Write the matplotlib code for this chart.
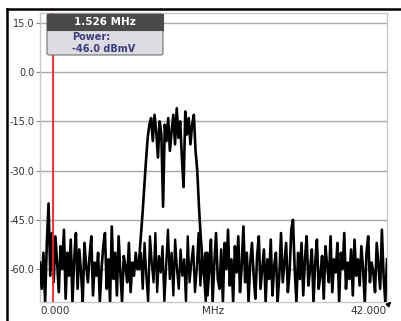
"""Spectrum trace with a marker readout, drawn like the meter screen."""

import matplotlib

matplotlib.use("Agg")

import matplotlib.pyplot as plt
import numpy as np
from matplotlib.lines import Line2D
from matplotlib.patches import FancyBboxPatch, Rectangle

# Main sweep, 0 - 42 MHz (dBmV). Split by region only for readability.
noise_low = [
    -58, -66, -55, -70, -52, -40, -62, -49, -64, -50,
    -58, -67, -53, -60, -48, -69, -55, -62, -51, -70,
    -57, -49, -66, -54, -61, -70, -52, -59, -64, -56,
    -50, -68, -58, -62, -55, -70, -60, -53, -49, -66,
    -57, -70, -47, -63, -55, -68, -50, -61, -70, -56,
    -59, -64, -52, -67, -58, -62, -55, -60,
]
channel_rise = [-57, -50, -43, -35, -27]
channel_top = [
    -20, -16, -14, -21, -13, -18, -26, -15, -19, -41,
    -16, -21, -14, -24, -18, -13, -22, -11, -20, -15,
    -26, -35, -12, -19, -14, -22, -16, -13, -24,
]
channel_fall = [-30, -41, -50, -57, -62]
noise_high = [
    -55, -68, -60, -51, -70, -58, -49, -63, -66, -54,
    -70, -52, -60, -48, -65, -57, -70, -53, -61, -50,
    -67, -59, -47, -64, -55, -70, -58, -52, -62, -69,
    -56, -50, -66, -60, -54, -70, -57, -63, -51, -68,
    -59, -55, -70, -62, -49, -64, -58, -52, -67, -61,
    -48, -45, -60, -70, -55, -63, -52, -68, -57, -50,
    -65, -60, -54, -70, -58, -51, -66, -62, -56, -69,
    -53, -59, -64, -50, -67, -57, -61, -52, -70, -55,
    -60, -49, -66, -58, -63, -54, -68, -51, -62, -57,
    -65, -53, -60, -70, -55, -50, -64, -58, -61, -67,
    -52, -59, -66, -48, -62, -70, -57,
]
level_dbmv = noise_low + channel_rise + channel_top + channel_fall + noise_high

# Second sweep where the burst was off (12 - 20.5 MHz).
floor_dbmv = [
    -60, -55, -66, -52, -62, -70, -50, -58, -64, -49,
    -67, -56, -61, -53, -70, -59, -48, -63, -55, -68,
    -51, -60, -66, -54, -62, -57, -70, -50, -64, -58,
    -53, -67, -60, -49, -65, -56, -62, -70, -55, -61,
]

span_mhz = (0.0, 42.0)
floor_span_mhz = (12.0, 20.5)
marker_mhz = 1.526
marker_power = "-46.0 dBmV"
y_ticks = [15, 0, -15, -30, -45, -60]

W, H = 401, 321


def fx(px):
    return px / W


def fy(py):
    return 1 - py / H


fig = plt.figure(figsize=(W / 100, H / 100), dpi=100)
ax = fig.add_axes([fx(40), fy(302), fx(387) - fx(40), fy(13) - fy(302)])

freq = np.linspace(span_mhz[0], span_mhz[1], len(level_dbmv))
freq_floor = np.linspace(floor_span_mhz[0], floor_span_mhz[1], len(floor_dbmv))

for tick in y_ticks:
    ax.axhline(tick, color="#a8a8a8", linewidth=1.0, zorder=1)

ax.plot(freq_floor, floor_dbmv, color="black", linewidth=1.7, zorder=2)
ax.plot(freq, level_dbmv, color="black", linewidth=1.9, zorder=3)
ax.axvline(marker_mhz, color="#ff2020", linewidth=1.3, zorder=4)

ax.set_xlim(*span_mhz)
ax.set_ylim(-70, 18)
ax.set_yticks(y_ticks)
ax.set_yticklabels([f"{t:.1f}" for t in y_ticks])
ax.tick_params(axis="y", length=3, width=0.8, color="#888888",
               labelsize=7, labelcolor="#333333", pad=1)
ax.set_xticks([span_mhz[0], sum(span_mhz) / 2, span_mhz[1]])
ax.set_xticklabels([f"{span_mhz[0]:.3f}", "MHz", f"{span_mhz[1]:.3f}"])
ax.tick_params(axis="x", length=0, labelsize=7.5, labelcolor="#333333", pad=3)
labels = ax.get_xticklabels()
labels[0].set_horizontalalignment("left")
labels[-1].set_horizontalalignment("right")
for spine in ax.spines.values():
    spine.set_color("#c8c8c8")
    spine.set_linewidth(1.0)

# Marker readout box
box_x0, box_x1 = fx(47), fx(163)
box_top, box_mid, box_bot = fy(14), fy(30), fy(55)
body = FancyBboxPatch((box_x0, box_bot), box_x1 - box_x0, box_top - box_bot,
                      boxstyle="round,pad=0,rounding_size=0.006",
                      transform=fig.transFigure, facecolor="#dcdce2",
                      edgecolor="#707070", linewidth=0.8, zorder=10)
fig.add_artist(body)
head = Rectangle((box_x0, box_mid), box_x1 - box_x0, box_top - box_mid,
                 transform=fig.transFigure, facecolor="#4a4a4a",
                 edgecolor="#4a4a4a", linewidth=0.8, zorder=11)
fig.add_artist(head)
fig.text(fx(105), fy(22), f"{marker_mhz:.3f} MHz", color="white", fontsize=7.5,
         fontweight="bold", ha="center", va="center", zorder=12)
fig.text(fx(72), fy(37.5), "Power:", color="#3b3b80", fontsize=7,
         fontweight="bold", ha="left", va="center", zorder=12)
fig.text(fx(72), fy(48.5), marker_power, color="#3b3b80", fontsize=7,
         fontweight="bold", ha="left", va="center", zorder=12)

# Screen frame (top and left edges) and the corner arrow
fig.add_artist(Line2D([fx(7), fx(W)], [fy(9), fy(9)], color="black",
                      linewidth=1.8, transform=fig.transFigure))
fig.add_artist(Line2D([fx(7), fx(7)], [fy(9), fy(H)], color="black",
                      linewidth=1.8, transform=fig.transFigure))
fig.add_artist(plt.annotate("", xy=(fx(393), fy(300)), xytext=(fx(387), fy(306)),
                            xycoords="figure fraction",
                            arrowprops=dict(arrowstyle="-|>", color="black",
                                            linewidth=1.0, mutation_scale=6)))

fig.savefig("out.png", dpi=100)
